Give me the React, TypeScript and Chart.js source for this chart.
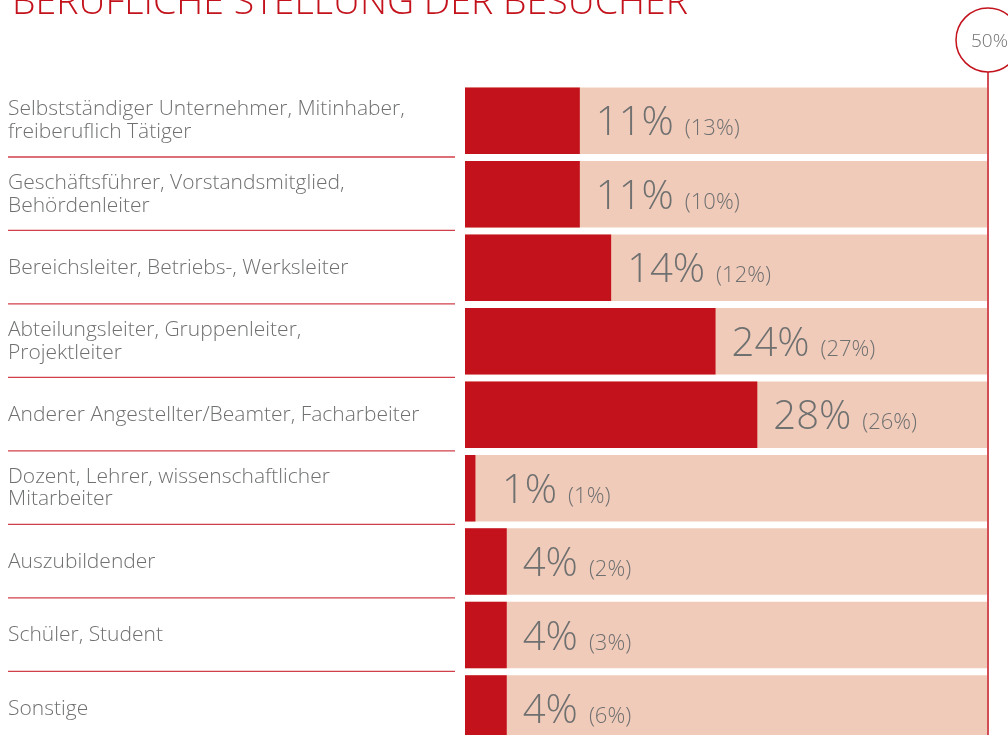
import React, { useEffect, useRef } from "react";
import { Chart, registerables } from "chart.js";

Chart.register(...registerables);

const title = "BERUFLICHE STELLUNG DER BESUCHER";
const categories: (string | string[])[] = [
  ["Selbstständiger Unternehmer, Mitinhaber,", "freiberuflich Tätiger"],
  ["Geschäftsführer, Vorstandsmitglied,", "Behördenleiter"],
  "Bereichsleiter, Betriebs-, Werksleiter",
  ["Abteilungsleiter, Gruppenleiter,", "Projektleiter"],
  "Anderer Angestellter/Beamter, Facharbeiter",
  ["Dozent, Lehrer, wissenschaftlicher", "Mitarbeiter"],
  "Auszubildender",
  "Schüler, Student",
  "Sonstige",
];
const currentValues = [11, 11, 14, 24, 28, 1, 4, 4, 4];
const previousValues = [13, 10, 12, 27, 26, 1, 2, 3, 6];
const scaleMax = 50;
const maxLabel = "50%";

const RED = "#c3121c";
const PINK = "#f1cbba";
const GRAY = "#6f7070";
const FONT = "'Open Sans', sans-serif";

const decor = {
  id: "decor",
  afterDatasetsDraw(chart: any) {
    const ctx = chart.ctx as CanvasRenderingContext2D;
    const xs = chart.scales.x;
    const ys = chart.scales.y;
    const n = categories.length;
    ctx.save();

    // separators between label rows
    ctx.strokeStyle = "rgba(200,30,40,0.85)";
    ctx.lineWidth = 1.3;
    for (let i = 0; i < n - 1; i++) {
      const yy = (ys.getPixelForValue(i) + ys.getPixelForValue(i + 1)) / 2 - 0.5;
      ctx.beginPath();
      ctx.moveTo(8, yy);
      ctx.lineTo(455, yy);
      ctx.stroke();
    }

    // value labels
    const x0 = xs.getPixelForValue(0);
    ctx.fillStyle = GRAY;
    ctx.textBaseline = "alphabetic";
    ctx.textAlign = "left";
    const meta = chart.getDatasetMeta(0);
    for (let i = 0; i < n; i++) {
      const bar = meta.data[i];
      const tx = Math.max(bar.x + 16, x0 + 37);
      const ty = bar.y + 14.5;
      ctx.font = `300 40px ${FONT}`;
      const big = `${currentValues[i]}%`;
      ctx.fillText(big, tx, ty);
      const w = ctx.measureText(big).width;
      ctx.font = `300 22px ${FONT}`;
      ctx.fillText(`(${previousValues[i]}%)`, tx + w + 11, ty);
    }

    // 50% marker
    const mx = xs.getPixelForValue(scaleMax) + 1;
    const cy = 40;
    const r = 32;
    ctx.strokeStyle = RED;
    ctx.lineWidth = 1.5;
    ctx.beginPath();
    ctx.moveTo(mx, cy + r);
    ctx.lineTo(mx, chart.height);
    ctx.stroke();
    ctx.beginPath();
    ctx.arc(mx, cy, r, 0, Math.PI * 2);
    ctx.fillStyle = "#ffffff";
    ctx.fill();
    ctx.stroke();
    ctx.fillStyle = GRAY;
    ctx.font = `300 19px ${FONT}`;
    ctx.textAlign = "left";
    ctx.textBaseline = "middle";
    ctx.fillText(maxLabel, mx - 17, cy + 2);

    // title
    ctx.fillStyle = RED;
    ctx.font = `300 37.5px ${FONT}`;
    ctx.textBaseline = "alphabetic";
    ctx.textAlign = "left";
    ctx.fillText(title, 12, 14);
    ctx.restore();
  },
};

export default function App() {
  const ref = useRef<HTMLCanvasElement | null>(null);
  useEffect(() => {
    if (!ref.current) return;
    const chart = new Chart(ref.current, {
      type: "bar",
      data: {
        labels: categories as any,
        datasets: [
          {
            data: currentValues,
            backgroundColor: RED,
            borderWidth: 0,
            barPercentage: 0.905,
            categoryPercentage: 1,
            grouped: false,
            order: 0,
          } as any,
          {
            data: categories.map(() => scaleMax),
            backgroundColor: PINK,
            borderWidth: 0,
            barPercentage: 0.905,
            categoryPercentage: 1,
            grouped: false,
            order: 1,
          } as any,
        ],
      },
      options: {
        indexAxis: "y",
        responsive: false,
        animation: false,
        events: [],
        layout: { padding: { left: 8, right: 21, top: 84, bottom: 15 } },
        plugins: { legend: { display: false }, tooltip: { enabled: false }, title: { display: false } },
        scales: {
          x: { display: false, min: 0, max: scaleMax },
          y: {
            grid: { display: false },
            border: { display: false },
            afterFit: (s: any) => {
              s.width = 457;
            },
            ticks: {
              crossAlign: "far",
              color: GRAY,
              padding: 0,
              font: { family: FONT, size: 21, weight: "300" as any, lineHeight: 1.08 },
            },
          },
        },
      },
      plugins: [decor],
    });
    return () => chart.destroy();
  }, []);
  return (
    <div style={{ position: "fixed", left: 0, top: 0, width: 1008, height: 735, overflow: "hidden", background: "#fff" }}>
      <canvas ref={ref} width={1008} height={768} style={{ display: "block" }} />
    </div>
  );
}
